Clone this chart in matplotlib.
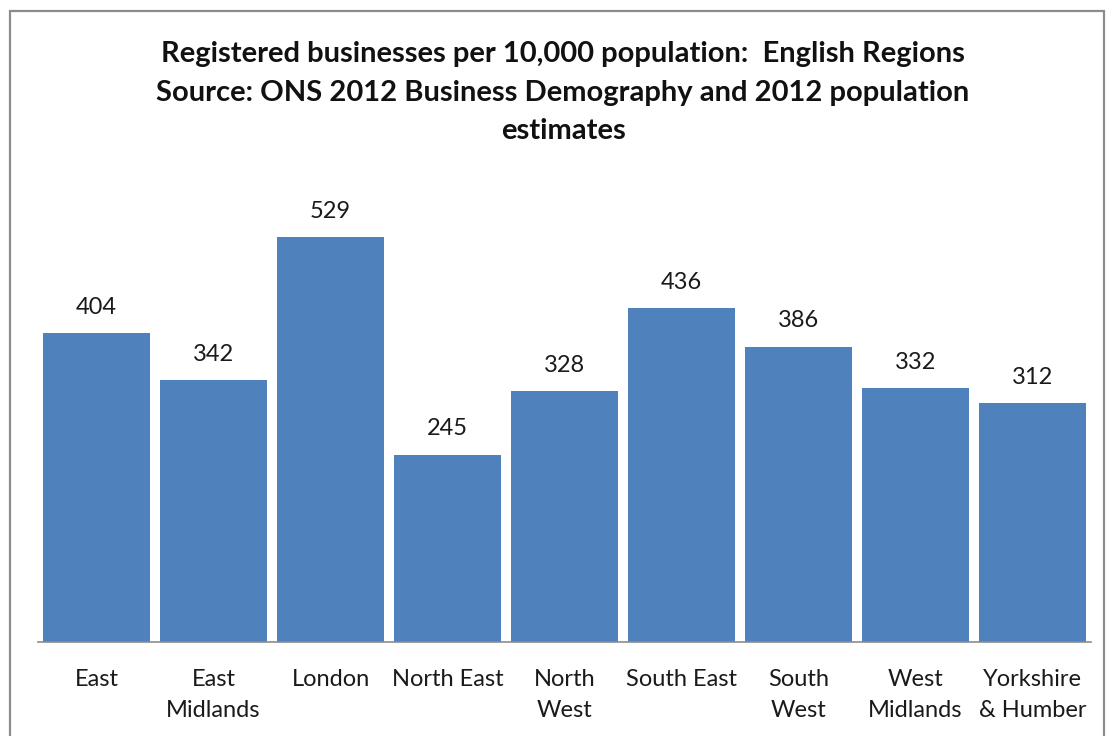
import matplotlib.pyplot as plt
from matplotlib.patches import Rectangle

# registered businesses per 10,000 population by region
regions = ["East", "East\nMidlands", "London", "North East", "North\nWest",
           "South East", "South\nWest", "West\nMidlands", "Yorkshire\n& Humber"]
per_10k = [404, 342, 529, 245, 328, 436, 386, 332, 312]

plt.rcParams['font.family'] = ['Lato', 'DejaVu Sans']

fig = plt.figure(figsize=(11.07, 7.36), dpi=100)
# grey chart-area frame
fig.patches.append(Rectangle((10 / 1107, -0.05), 1094 / 1107, 1.05 - 11 / 736,
                             transform=fig.transFigure, fill=False,
                             edgecolor="#8c8c8c", linewidth=1.6))

ax = fig.add_axes([38 / 1107, 94 / 736, 1053 / 1107, 459 / 736])
x = range(len(regions))
bars = ax.bar(x, per_10k, width=0.906, color="#4f81bd")
ax.set_xlim(-0.5, len(regions) - 0.5)
ax.set_ylim(0, 600)

for b, v in zip(bars, per_10k):
    ax.annotate(str(v), (b.get_x() + b.get_width() / 2, v), xytext=(0, 11),
                textcoords="offset points", ha="center", va="bottom",
                fontsize=17, color="#1a1a1a")

ax.set_xticks(list(x))
ax.set_xticklabels(regions, fontsize=17, color="#1a1a1a", linespacing=1.6)
ax.tick_params(axis="x", length=0, pad=19.5)
ax.set_yticks([])
for s in ["top", "right", "left"]:
    ax.spines[s].set_visible(False)
ax.spines["bottom"].set_color("#8c8c8c")
ax.spines["bottom"].set_linewidth(1.2)

fig.text(563 / 1107, 1 - 41 / 736,
         "Registered businesses per 10,000 population:  English Regions\n"
         "Source: ONS 2012 Business Demography and 2012 population\nestimates",
         ha="center", va="top", fontsize=21, fontweight="bold",
         linespacing=1.6, color="#111111")

fig.savefig("out.png", dpi=100)
